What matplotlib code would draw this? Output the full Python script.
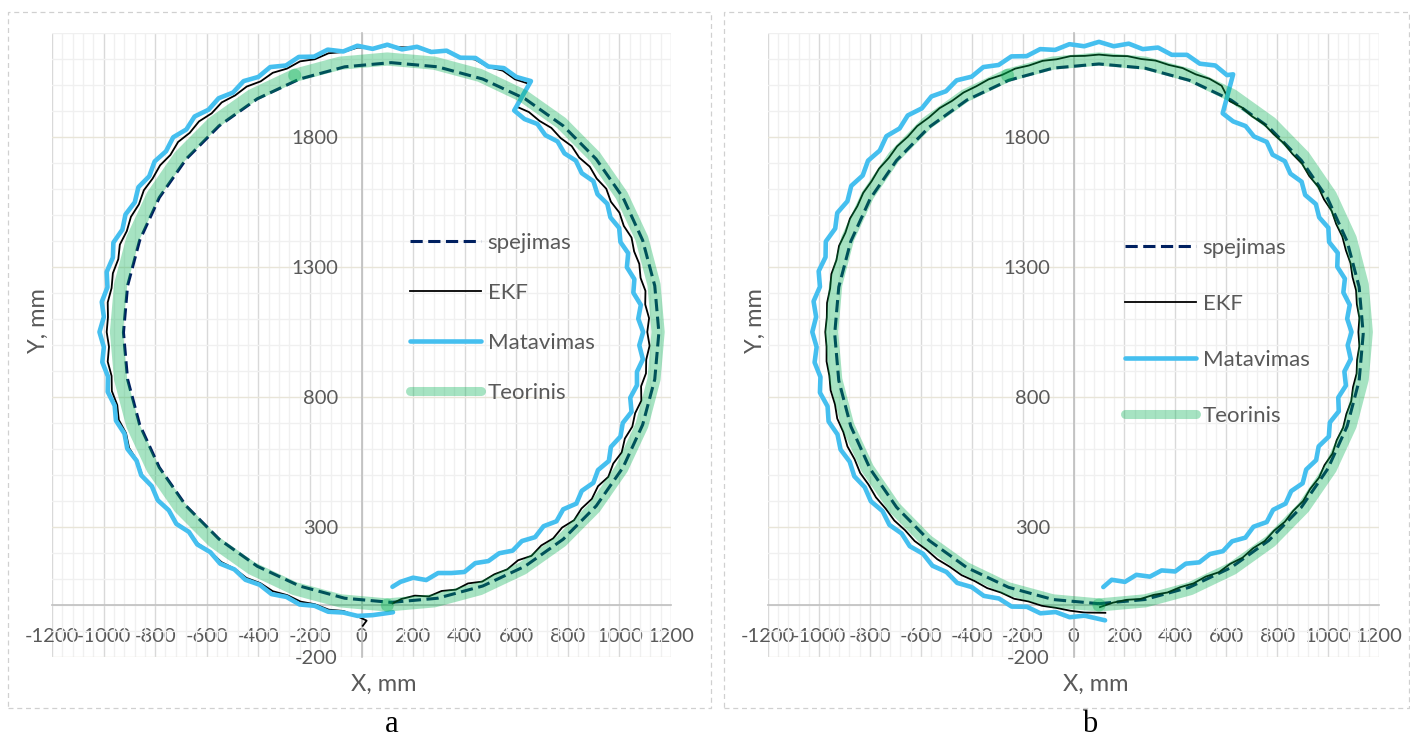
import matplotlib.pyplot as plt
import matplotlib.patches as patches
from matplotlib.ticker import MultipleLocator

plt.rcParams['font.family'] = ['Lato', 'DejaVu Sans']

# Teorinis trajektorija (abu grafikai)
teor_x = [100, 282, 459, 625, 775, 904, 1009, 1087, 1134, 1150, 1134, 1087, 1009, 904, 775, 625, 459, 282, 100,
          -82, -259, -425, -575, -704, -809, -887, -934, -950, -934, -887, -809, -704, -575, -425, -259, -82, 100]
teor_y = [0, 16, 63, 141, 246, 375, 525, 691, 868, 1050, 1232, 1409, 1575, 1725, 1854, 1959, 2037, 2084, 2100,
          2084, 2037, 1959, 1854, 1725, 1575, 1409, 1232, 1050, 868, 691, 525, 375, 246, 141, 63, 16, 0]

# --- grafikas a ---
spej_a_x = [115, 295, 470, 634, 782, 910, 1014, 1090, 1137, 1153, 1137, 1090, 1014, 910, 782, 634, 470, 295, 115,
            -65, -240, -404, -552, -680, -784, -860, -907, -923, -907, -860, -784, -680, -552, -404, -240, -65, 115]
spej_a_y = [10, 26, 73, 149, 253, 381, 529, 693, 868, 1048, 1228, 1403, 1567, 1715, 1843, 1947, 2023, 2070, 2086,
            2070, 2023, 1947, 1843, 1715, 1567, 1403, 1228, 1048, 868, 693, 529, 381, 253, 149, 73, 26, 10]

ekf_a_x = [120, 154, 207, 261, 311, 366, 413, 468, 515, 565, 607, 659, 697, 743, 778, 824, 853, 893, 917, 957,
           976, 1009, 1021, 1050, 1061, 1085, 1084, 1103, 1104, 1117,
           1108, 1115, 1100, 1101, 1082, 1077, 1057, 1047, 1017, 1000, 967, 949, 912, 885, 844, 815, 772, 736, 690,
           649, 601, 651, 595, 548, 491, 440, 383, 329, 271, 215, 157,
           100, 43, -15, -70, -128, -181, -238, -289, -344, -391, -445, -490, -542, -581, -630, -666, -711, -741,
           -781, -810, -844, -863, -894, -910, -937, -943, -964, -969, -984, -983,
           -988, -979, -984, -969, -968, -947, -941, -913, -901, -870, -851, -815, -790, -747, -716, -669, -634,
           -585, -543, -491, -446, -392, -344, -288, -236, -181, -127, -70, -15, 20, 5]
ekf_a_y = [6, 23, 36, 33, 54, 59, 83, 90, 118, 137, 172, 189, 229, 256, 298, 326, 371, 408, 457, 493,
           544, 587, 640, 686, 738, 786, 841, 891, 944, 997,
           1050, 1103, 1156, 1208, 1258, 1312, 1360, 1413, 1458, 1509, 1551, 1601, 1640, 1686, 1721, 1765, 1796,
           1835, 1862, 1896, 1917, 2004, 2022, 2055, 2069, 2098, 2107, 2128, 2131, 2145, 2145,
           2150, 2141, 2144, 2127, 2122, 2099, 2091, 2063, 2047, 2014, 1994, 1960, 1933, 1891, 1860, 1816, 1781,
           1731, 1691, 1640, 1595, 1541, 1493, 1438, 1386, 1330, 1276, 1219, 1164, 1107,
           1050, 993, 936, 881, 823, 769, 712, 661, 604, 556, 501, 456, 403, 364, 315, 281, 236, 204, 165, 139,
           104, 84, 53, 38, 13, 3, -18, -23, -44, -60, -80]

mat_a_x = [120, 151, 200, 251, 297, 349, 399, 441, 492, 534, 586, 622, 673, 706, 756, 782, 833, 854, 899, 917,
           959, 967, 1004, 1013, 1047, 1042, 1068, 1068, 1091, 1077,
           1092, 1073, 1083, 1054, 1058, 1029, 1034, 1004, 999, 965, 953, 915, 899, 854, 831, 787, 760, 713, 682,
           632, 592, 657, 600, 552, 492, 442, 383, 330, 270, 215, 157,
           100, 43, -16, -71, -131, -184, -243, -293, -354, -400, -457, -498, -554, -593, -647, -679, -730, -758,
           -802, -823, -865, -879, -915, -927, -962, -964, -988, -985, -1007, -999,
           -1016, -999, -1005, -983, -984, -957, -952, -919, -908, -872, -854, -813, -790, -747, -718, -669, -637,
           -586, -548, -493, -450, -395, -349, -291, -240, -182, -129, -71, -15, 43, 122]
mat_a_y = [70, 89, 105, 96, 123, 123, 127, 161, 169, 199, 209, 246, 261, 303, 322, 368, 390, 439, 470, 519,
           554, 608, 648, 700, 743, 797, 845, 897, 945, 999,
           1050, 1101, 1154, 1201, 1253, 1299, 1353, 1396, 1450, 1491, 1543, 1580, 1630, 1661, 1709, 1737, 1783,
           1807, 1850, 1869, 1902, 2015, 2031, 2065, 2071, 2104, 2105, 2132, 2127, 2147, 2137,
           2155, 2139, 2151, 2129, 2136, 2109, 2108, 2075, 2069, 2031, 2015, 1971, 1949, 1905, 1879, 1829, 1799,
           1745, 1706, 1649, 1607, 1549, 1502, 1444, 1394, 1336, 1281, 1222, 1166, 1108,
           1050, 992, 934, 879, 820, 767, 709, 659, 601, 555, 499, 457, 403, 364, 312, 281, 233, 203, 159, 137,
           97, 78, 42, 31, 2, -3, -26, -29, -42, -39, -28]

# --- grafikas b ---
spej_b_x = [100, 280, 455, 619, 767, 895, 999, 1075, 1122, 1138, 1122, 1075, 999, 895, 767, 619, 455, 280, 100,
            -80, -255, -419, -567, -695, -799, -875, -922, -938, -922, -875, -799, -695, -567, -419, -255, -80, 100]
spej_b_y = [5, 21, 68, 144, 248, 376, 524, 688, 863, 1043, 1223, 1398, 1562, 1710, 1838, 1942, 2018, 2065, 2081,
            2065, 2018, 1942, 1838, 1710, 1562, 1398, 1223, 1043, 863, 688, 524, 376, 248, 144, 68, 21, 5]

ekf_b_x = [104, 155, 209, 262, 315, 369, 418, 471, 519, 571, 615, 664, 705, 751, 788, 830, 863, 902, 930, 964,
           986, 1017, 1034, 1059, 1072, 1091, 1098, 1112, 1114, 1123,
           1119, 1123, 1113, 1110, 1096, 1088, 1070, 1056, 1032, 1014, 984, 961, 926, 898, 860, 826, 786, 748, 702,
           661, 613, 582, 534, 480, 429, 375, 322, 266, 212, 156,
           100, 44, -12, -66, -121, -175, -229, -280, -333, -382, -432, -477, -526, -568, -614, -651, -693, -726,
           -764, -793, -826, -849, -878, -896, -921, -931, -951, -956, -968, -969,
           -975, -970, -970, -959, -954, -937, -928, -904, -888, -860, -838, -805, -776, -738, -704, -662, -624,
           -578, -535, -486, -440, -388, -339, -285, -233, -178, -124, -68, -13, 43, 125]
ekf_b_y = [-8, 9, 20, 23, 39, 48, 68, 83, 109, 126, 158, 182, 218, 246, 286, 320, 362, 400, 447, 489,
           538, 582, 634, 682, 735, 784, 838, 890, 943, 996,
           1050, 1104, 1157, 1210, 1261, 1315, 1364, 1417, 1465, 1516, 1560, 1609, 1650, 1697, 1735, 1776, 1811,
           1850, 1879, 1914, 1938, 1997, 2024, 2041, 2065, 2077, 2094, 2100, 2111, 2112,
           2117, 2112, 2111, 2099, 2093, 2075, 2063, 2039, 2022, 1995, 1971, 1939, 1911, 1875, 1842, 1801, 1764,
           1719, 1678, 1630, 1585, 1534, 1486, 1432, 1381, 1327, 1273, 1217, 1162, 1106,
           1050, 994, 937, 882, 826, 772, 717, 665, 610, 561, 508, 463, 414, 371, 325, 288, 246, 213, 176, 147,
           115, 92, 65, 48, 24, 14, -3, -11, -22, -29, -30]

mat_b_x = [117, 150, 202, 247, 300, 346, 399, 441, 494, 536, 587, 623, 675, 707, 759, 784, 833, 855, 900, 914,
           953, 963, 1003, 1007, 1042, 1040, 1070, 1064, 1089, 1077,
           1092, 1075, 1085, 1060, 1066, 1036, 1038, 1004, 1001, 965, 952, 910, 896, 852, 830, 782, 759, 709, 676,
           627, 586, 627, 603, 557, 496, 446, 386, 332, 272, 217, 158,
           100, 42, -16, -72, -131, -184, -244, -294, -354, -400, -459, -501, -558, -596, -651, -683, -735, -761,
           -807, -828, -873, -888, -928, -936, -973, -974, -1001, -996, -1021, -1011,
           -1026, -1009, -1017, -994, -996, -966, -962, -927, -915, -879, -861, -820, -796, -750, -723, -675, -643,
           -591, -554, -499, -457, -400, -352, -293, -243, -183, -130, -70, -15, 43, 124]
mat_b_y = [69, 97, 89, 116, 109, 133, 129, 159, 164, 196, 207, 245, 259, 301, 319, 366, 390, 438, 468, 521,
           557, 610, 648, 702, 745, 798, 844, 898, 946, 999,
           1050, 1101, 1154, 1202, 1255, 1301, 1354, 1396, 1451, 1491, 1542, 1577, 1628, 1659, 1707, 1732, 1781,
           1802, 1842, 1860, 1891, 2041, 2038, 2075, 2082, 2116, 2116, 2144, 2138, 2159, 2149,
           2166, 2149, 2157, 2135, 2138, 2111, 2110, 2077, 2069, 2032, 2018, 1976, 1956, 1910, 1883, 1833, 1803,
           1748, 1709, 1652, 1612, 1553, 1508, 1448, 1398, 1338, 1284, 1224, 1168, 1108,
           1050, 992, 933, 877, 817, 764, 706, 656, 598, 551, 495, 453, 399, 361, 308, 275, 226, 197, 151, 127,
           85, 69, 35, 25, -6, -7, -32, -27, -47, -41, -59]

x_ticks = [-1200, -1000, -800, -600, -400, -200, 0, 200, 400, 600, 800, 1000, 1200]
y_ticks = [-200, 300, 800, 1300, 1800]

GRAY = '#595959'
W, H = 1410, 740

fig = plt.figure(figsize=(14.1, 7.4), dpi=100)


def px(x0, y0, x1, y1):
    # pikseliai -> figuros koordinates
    return [x0 / W, 1 - y1 / H, (x1 - x0) / W, (y1 - y0) / H]


def panel(rect, sx, sy, ex, ey, mx, my, leg_xy, leg_sp):
    ax = fig.add_axes(rect)
    ax.plot(sx, sy, color='#002060', lw=2.2, dashes=(4, 1.8), label='spejimas', zorder=3)
    ax.plot(ex, ey, color='black', lw=1.3, label='EKF', zorder=4)
    ax.plot(mx, my, color='#45BFEF', lw=3.3, solid_joinstyle='round', solid_capstyle='round',
            label='Matavimas', zorder=5)
    ax.plot(teor_x[:21], teor_y[:21], color='#00B050', alpha=0.35, lw=9.5, solid_capstyle='round',
            label='Teorinis', zorder=6)
    ax.plot(teor_x[20:], teor_y[20:], color='#00B050', alpha=0.35, lw=9.5, solid_capstyle='round', zorder=6)

    ax.set_xlim(-1200, 1200)
    ax.set_ylim(-200, 2200)
    ax.set_xticks(x_ticks)
    ax.set_xticklabels([str(v) for v in x_ticks])
    ax.set_yticks(y_ticks)
    ax.set_yticklabels([str(v) for v in y_ticks])
    ax.xaxis.set_minor_locator(MultipleLocator(40))
    ax.yaxis.set_minor_locator(MultipleLocator(100))
    ax.set_axisbelow(True)
    ax.grid(which='minor', color='#F0F0F0', lw=1.0)
    ax.grid(which='major', axis='x', color='#D9D9D9', lw=1.0)
    ax.grid(which='major', axis='y', color='#E8E5D8', lw=1.0)

    for s in ['top', 'right']:
        ax.spines[s].set_visible(False)
    ax.spines['left'].set_position(('data', 0))
    ax.spines['bottom'].set_position(('data', 0))
    for s in ['left', 'bottom']:
        ax.spines[s].set_color('#BFBFBF')
        ax.spines[s].set_linewidth(1.2)
    ax.tick_params(which='both', length=0, labelsize=14.5, labelcolor=GRAY)
    ax.tick_params(axis='x', pad=16.5)
    ax.tick_params(axis='y', pad=17)

    leg = ax.legend(loc='upper left', bbox_to_anchor=(leg_xy[0] / W, 1 - leg_xy[1] / H),
                    bbox_transform=fig.transFigure, frameon=False, fontsize=16, labelcolor=GRAY,
                    handlelength=3.2, handletextpad=0.3, labelspacing=leg_sp, borderpad=0, borderaxespad=0)
    # legendoje teorine linija plonesne
    leg.get_lines()[3].set_linewidth(6.5)
    return ax


panel(px(52, 33, 671, 657), spej_a_x, spej_a_y, ekf_a_x, ekf_a_y, mat_a_x, mat_a_y, (410, 233), 1.35)
panel(px(768, 33, 1379, 657), spej_b_x, spej_b_y, ekf_b_x, ekf_b_y, mat_b_x, mat_b_y, (1125, 238), 1.62)

# asiu pavadinimai
for xl, yl in [(384, 38), (1096, 755)]:
    fig.text(xl / W, 1 - 684 / H, 'X, mm', ha='center', va='center', fontsize=17, color=GRAY)
    fig.text(yl / W, 1 - 321 / H, 'Y, mm', ha='center', va='center', rotation=90, fontsize=17, color=GRAY)

# remeliai ir raides
for x0, x1, lab, xc in [(8, 711, 'a', 392), (724, 1409, 'b', 1090)]:
    r = patches.Rectangle((x0 / W, 1 - 708 / H), (x1 - x0) / W, 696 / H, transform=fig.transFigure,
                          fill=False, edgecolor='#D0D0D0', lw=0.9, linestyle=(0, (4, 3)))
    fig.add_artist(r)
    fig.text(xc / W, 1 - 725 / H, lab, ha='center', va='center', fontsize=22, family='Liberation Serif')

fig.savefig('out.png', dpi=100)
